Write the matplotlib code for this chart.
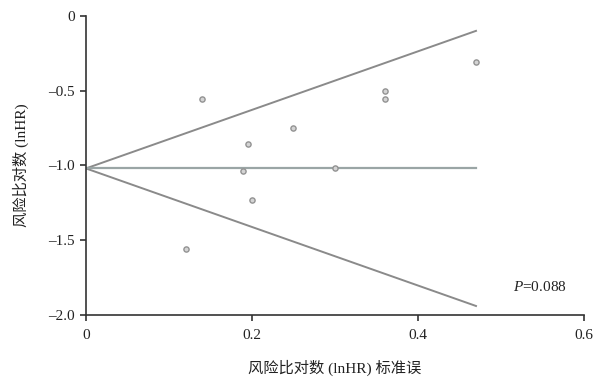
import matplotlib.pyplot as plt
from matplotlib.ticker import FuncFormatter

# study points: standard error of lnHR vs lnHR
se = [0.12, 0.14, 0.189, 0.195, 0.20, 0.25, 0.30, 0.36, 0.36, 0.47]
lnhr = [-1.56, -0.555, -1.04, -0.856, -1.23, -0.75, -1.02, -0.50, -0.556, -0.31]

# funnel lines
line_se = [0.0, 0.47]
center_line = [-1.02, -1.02]
upper_line = [-1.02, -0.10]
lower_line = [-1.02, -1.94]

x_ticks = [0, 0.2, 0.4, 0.6]
y_ticks = [0, -0.5, -1.0, -1.5, -2.0]
p_text = "0.088"

plt.rcParams["font.family"] = ["Liberation Serif", "Noto Sans CJK SC"]
plt.rcParams["axes.unicode_minus"] = True
plt.rcParams["mathtext.fontset"] = "custom"
plt.rcParams["mathtext.rm"] = "Liberation Serif"
plt.rcParams["mathtext.it"] = "Liberation Serif:italic"

fig = plt.figure(figsize=(5.97, 3.79), dpi=100)
ax = fig.add_axes([0.144, 0.169, 0.834, 0.789])

line_color = "#8a8a8a"
ax.plot(line_se, upper_line, color=line_color, lw=1.4)
ax.plot(line_se, lower_line, color=line_color, lw=1.4)
ax.plot(line_se, center_line, color="#9aa5a5", lw=1.6)

ax.scatter(se, lnhr, s=14, facecolor="#d4d4d4", edgecolor="#929292",
           linewidths=1.0, zorder=3)

ax.text(0.514, -1.81, "$\\mathit{P}$=" + p_text, fontsize=11, va="center",
        ha="left", color="#222222")

ax.set_xlim(0, 0.6)
ax.set_ylim(-2.0, 0)
ax.set_xticks(x_ticks)
ax.set_yticks(y_ticks)


def _fmt(v, pos):
    if abs(v) < 1e-9:
        return "0"
    return f"{v:.1f}".replace("-", "\u2013")


ax.xaxis.set_major_formatter(FuncFormatter(_fmt))
ax.yaxis.set_major_formatter(FuncFormatter(_fmt))

for side in ("top", "right"):
    ax.spines[side].set_visible(False)
for side in ("left", "bottom"):
    ax.spines[side].set_color("#333333")
    ax.spines[side].set_linewidth(1.2)

ax.tick_params(axis="both", direction="out", length=4, width=1.2,
               colors="#333333", labelsize=11, labelcolor="#222222")
ax.tick_params(axis="x", pad=6)
ax.tick_params(axis="y", pad=4)

ax.set_xlabel("风险比对数 (lnHR) 标准误", fontsize=11, labelpad=13,
              color="#222222")
ax.set_ylabel("风险比对数 (lnHR)", fontsize=11, labelpad=14, color="#222222")

fig.savefig("out.png", dpi=100)
